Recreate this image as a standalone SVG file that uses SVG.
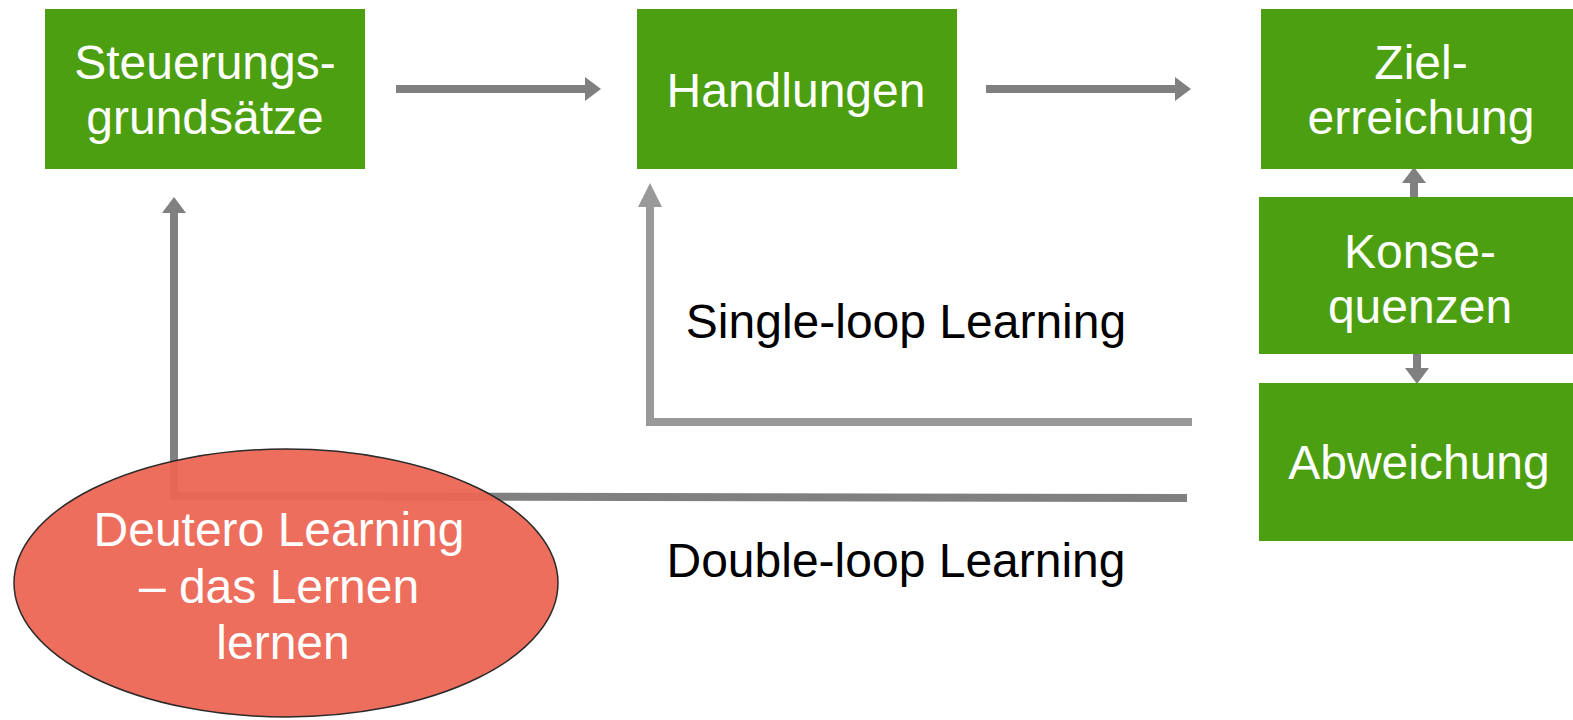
<svg xmlns="http://www.w3.org/2000/svg" width="1573" height="720" viewBox="0 0 1573 720">
  <style>
    .box { fill: #4c9f10; }
    .lbl { font-family: "Liberation Sans", Arial, sans-serif; font-size: 48px; text-anchor: middle; }
    .w { fill: #ffffff; }
    .k { fill: #000000; }
    .dark { stroke: #808080; stroke-width: 8; fill: none; }
    .light { stroke: #999999; stroke-width: 8; fill: none; }
  </style>
  <defs>
    <!-- heads start at the end of each line and point along it -->
    <marker id="headDark" viewBox="0 0 16 24" refX="0" refY="12" markerWidth="16" markerHeight="24" orient="auto" markerUnits="userSpaceOnUse">
      <path d="M0,0 L16,12 L0,24 Z" fill="#808080"/>
    </marker>
    <marker id="headLight" viewBox="0 0 24 24" refX="0" refY="12" markerWidth="24" markerHeight="24" orient="auto" markerUnits="userSpaceOnUse">
      <path d="M0,0 L24,12 L0,24 Z" fill="#999999"/>
    </marker>
  </defs>

  <!-- connectors -->
  <g id="connectors">
    <line class="dark" x1="396" y1="89" x2="585" y2="89" marker-end="url(#headDark)"/>
    <line class="dark" x1="986" y1="89" x2="1175" y2="89" marker-end="url(#headDark)"/>
    <line class="dark" x1="1414" y1="197" x2="1414" y2="183" marker-end="url(#headDark)"/>
    <line class="dark" x1="1417" y1="353" x2="1417" y2="368" marker-end="url(#headDark)"/>
    <!-- single loop -->
    <polyline class="light" points="1192,422 650,422 650,207" marker-end="url(#headLight)"/>
    <!-- double loop -->
    <polyline class="dark" points="1187,498 174,496 174,213" marker-end="url(#headDark)"/>
  </g>

  <g id="steuerungsgrundsaetze">
    <rect class="box" x="45" y="9" width="320" height="160"/>
    <text class="lbl w" x="205" y="79">Steuerungs-</text>
    <text class="lbl w" x="205" y="134">grundsätze</text>
  </g>

  <g id="handlungen">
    <rect class="box" x="637" y="9" width="320" height="160"/>
    <text class="lbl w" x="796" y="107">Handlungen</text>
  </g>

  <g id="zielerreichung">
    <rect class="box" x="1261" y="9" width="312" height="160"/>
    <text class="lbl w" x="1421" y="79">Ziel-</text>
    <text class="lbl w" x="1421" y="134">erreichung</text>
  </g>

  <g id="konsequenzen">
    <rect class="box" x="1259" y="197" width="314" height="157"/>
    <text class="lbl w" x="1420" y="268">Konse-</text>
    <text class="lbl w" x="1420" y="323">quenzen</text>
  </g>

  <g id="abweichung">
    <rect class="box" x="1259" y="383" width="314" height="158"/>
    <text class="lbl w" x="1419" y="479">Abweichung</text>
  </g>

  <g id="single-loop-label">
    <text class="lbl k" x="906" y="338">Single-loop Learning</text>
  </g>

  <g id="double-loop-label">
    <text class="lbl k" x="896" y="577">Double-loop Learning</text>
  </g>

  <g id="deutero-learning">
    <ellipse cx="286" cy="583" rx="272" ry="134" fill="#ec6553" fill-opacity="0.94" stroke="#2a2a2a" stroke-width="1.5"/>
    <text class="lbl w" x="279" y="546">Deutero Learning</text>
    <text class="lbl w" x="279" y="603">– das Lernen</text>
    <text class="lbl w" x="283" y="659">lernen</text>
  </g>
</svg>
